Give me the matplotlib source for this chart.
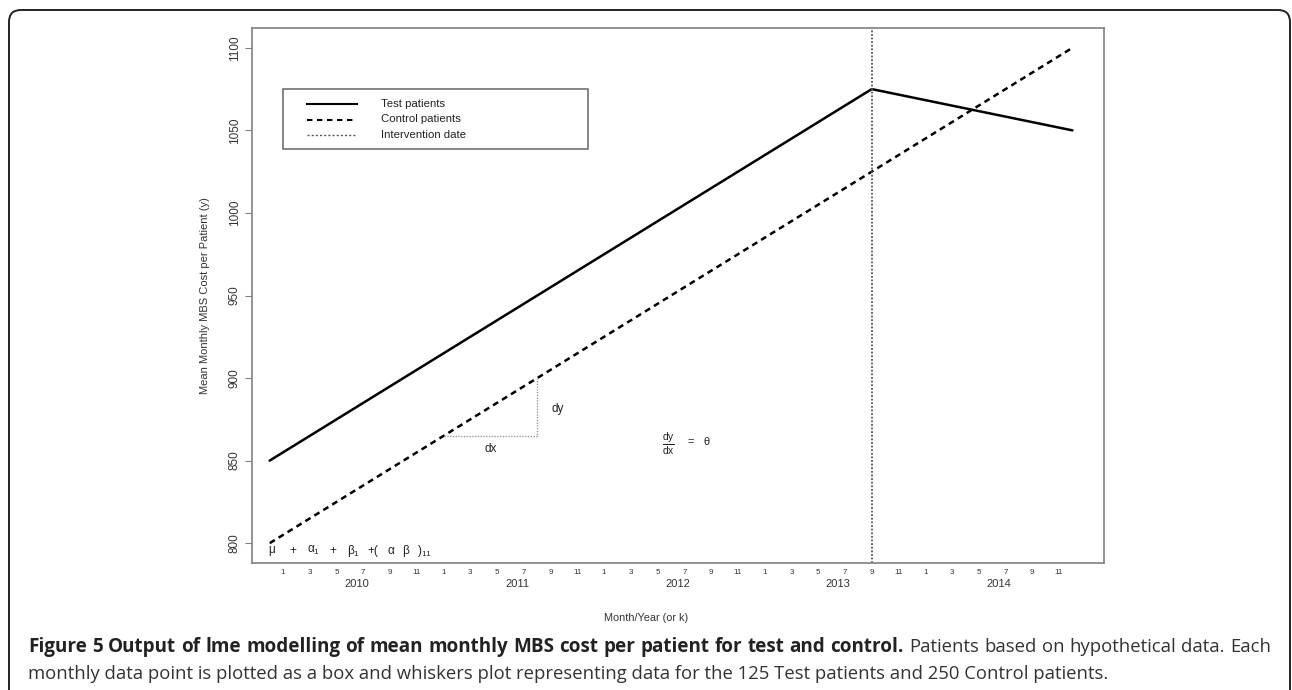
import matplotlib
matplotlib.use('Agg')
import matplotlib.pyplot as plt
from matplotlib.patches import FancyBboxPatch, Rectangle
from matplotlib.lines import Line2D
from matplotlib.transforms import IdentityTransform, blended_transform_factory

# month index k: 1 = Jan 2010, 13 = Jan 2011, ...
test_k = [0, 45, 60]
test_y = [850, 1075, 1050]
control_k = [0, 60]
control_y = [800, 1100]
intervention_k = 45
years = [2010, 2011, 2012, 2013, 2014]
month_labels = [1, 3, 5, 7, 9, 11]
yticks = [800, 850, 900, 950, 1000, 1050, 1100]
# dx / dy triangle drawn under the control line
tri_k = [13, 20, 20]
tri_y = [865, 865, 900]
legend_labels = ['Test patients', 'Control patients', 'Intervention date']

plt.rcParams['font.family'] = ['Liberation Sans', 'DejaVu Sans']
plt.rcParams['mathtext.fontset'] = 'custom'
plt.rcParams['mathtext.rm'] = 'Liberation Sans'
plt.rcParams['mathtext.it'] = 'Liberation Sans'
plt.rcParams['mathtext.bf'] = 'Liberation Sans:bold'

W, H = 1292, 690
fig = plt.figure(figsize=(W / 100, H / 100), dpi=100)

# axes box in image pixels
L, R, T, B = 252, 1104, 28, 563
ax = fig.add_axes([L / W, 1 - B / H, (R - L) / W, (B - T) / H])
ax.set_xlim(-1.32, 62.36)
ax.set_ylim(788, 1112)

ax.plot(test_k, test_y, color='black', lw=1.8, solid_capstyle='round')
ax.plot(control_k, control_y, color='black', lw=1.8, ls=(0, (2.4, 1.8)))
ax.axvline(intervention_k, color='#555555', lw=1.3, ls=(0, (1, 1)))
ax.plot(tri_k, tri_y, color='#999999', lw=1.0, ls=(0, (1, 1)))

ax.text(16.5, 857, 'dx', fontsize=8.5, ha='center', va='center', color='#222')
ax.text(21.5, 881, 'dy', fontsize=8.5, ha='center', va='center', color='#222')
ax.text(29.8, 860, r'$\frac{\mathrm{dy}}{\mathrm{dx}}$', fontsize=10.5, ha='center', va='center', color='#222')
ax.text(31.3, 861, '=   θ', fontsize=8, ha='left', va='center', color='#222')

# model terms along the bottom
terms = [(-0.1, r'$\mu$'), (1.5, '+'), (2.8, r'$\alpha_1$'), (4.5, '+'),
         (5.8, r'$\beta_1$'), (7.3, '+('), (8.8, r'$\alpha$'), (9.9, r'$\beta$'),
         (11.0, r'$)_{11}$')]
for k, s in terms:
    ax.text(k, 795.5, s, fontsize=8.5, ha='left', va='center', color='#222')

for s in ax.spines.values():
    s.set_color('#808080')
    s.set_linewidth(1.2)

ax.set_yticks(yticks)
ax.set_yticklabels([str(v) for v in yticks], rotation=90, va='center', fontsize=8.5, color='#333')
ax.tick_params(axis='y', length=5, color='#808080', pad=3)

xt = [12 * i + m for i in range(len(years)) for m in month_labels]
ax.set_xticks(xt)
ax.set_xticklabels([str(m) for i in range(len(years)) for m in month_labels], fontsize=5.8, color='#333')
ax.tick_params(axis='x', length=0, pad=4)

tr = blended_transform_factory(ax.transData, ax.transAxes)
for i, yr in enumerate(years):
    ax.text(12 * i + 6.5, -(584 - B) / (B - T), str(yr), transform=tr, fontsize=8,
            ha='center', va='center', color='#333')

ax.text((646 - L) / (R - L), -(618 - B) / (B - T), 'Month/Year (or k)', transform=ax.transAxes,
        fontsize=7.8, ha='center', va='center', color='#333')
ax.text(-(L - 205) / (R - L), 0.5, 'Mean Monthly MBS Cost per Patient (y)', transform=ax.transAxes,
        fontsize=8, ha='center', va='center', rotation=90, color='#333')

# legend box drawn in image pixels
def px(x, y):
    return x / W, 1 - y / H

fig.add_artist(Rectangle(px(283, 149), (588 - 283) / W, (149 - 89) / H, transform=fig.transFigure,
                         fill=False, ec='#666666', lw=1.1))
styles = [dict(color='black', lw=1.5),
          dict(color='black', lw=1.5, ls=(0, (2.6, 2.2))),
          dict(color='#555555', lw=1.0, ls=(0, (1.5, 1.5)))]
for j, (lab, st) in enumerate(zip(legend_labels, styles)):
    yy = 104 + 15.5 * j
    x0, y0 = px(307, yy)
    x1, _ = px(357, yy)
    fig.add_artist(Line2D([x0, x1], [y0, y0], transform=fig.transFigure, **st))
    fig.text(*px(381, yy), lab, fontsize=8.2, ha='left', va='center', color='#222')

# journal frame
fig.add_artist(FancyBboxPatch((9, -40), 1281, H - 10 + 40, boxstyle='round,pad=0,rounding_size=12',
                              transform=IdentityTransform(), fill=False, ec='#222222', lw=1.4))

# caption, first line justified to the frame width
cap_font = ['Open Sans', 'DejaVu Sans']
bold = 'Figure 5 Output of lme modelling of mean monthly MBS cost per patient for test and control.'
rest = 'Patients based on hypothetical data. Each'
line2 = ('monthly data point is plotted as a box and whiskers plot representing data for the '
         '125 Test patients and 250 Control patients.')
cap_x0, cap_x1 = 28, 1271
words = [(w, 'bold', 13.6, '#222') for w in bold.split()] + [(w, 'normal', 13.3, '#333') for w in rest.split()]
objs = [fig.text(0, 1 - 647 / H, w, fontsize=fs, fontweight=wt, family=cap_font,
                 ha='left', va='center', color=c) for w, wt, fs, c in words]
fig.canvas.draw()
r = fig.canvas.get_renderer()
widths = [o.get_window_extent(r).width for o in objs]
gap = (cap_x1 - cap_x0 - sum(widths)) / (len(objs) - 1)
x = cap_x0
for o, wd in zip(objs, widths):
    o.set_x(x / W)
    x += wd + gap
fig.text(*px(cap_x0, 674), line2, fontsize=13.3, family=cap_font, ha='left', va='center', color='#333')

fig.savefig('out.png', dpi=100)
